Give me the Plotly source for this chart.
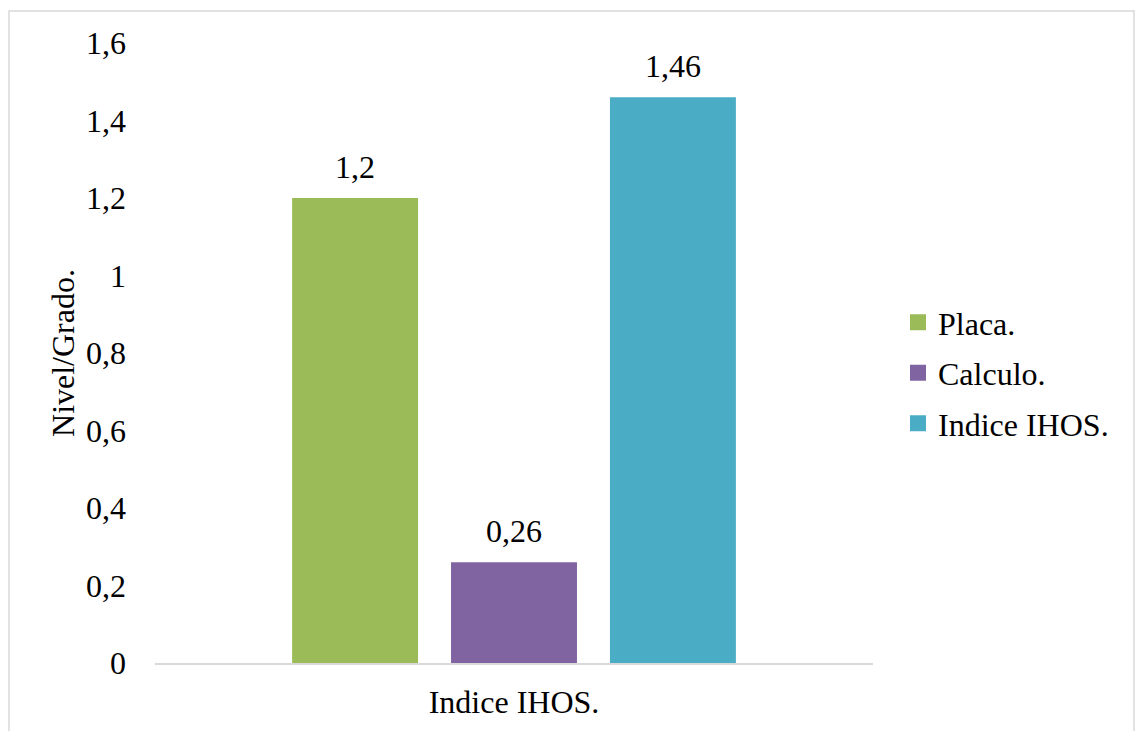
import plotly.graph_objects as go

categories = ["Indice IHOS."]
series_names = ["Placa.", "Calculo.", "Indice IHOS."]
series_values = [[1.2], [0.26], [1.46]]
series_colors = ["#9BBB59", "#8064A2", "#4BACC6"]
tick_values = [0, 0.2, 0.4, 0.6, 0.8, 1.0, 1.2, 1.4, 1.6]

FONT = "Liberation Serif"
FS = 32
L, R, T, B = 155, 263, 43, 68
W, H = 1136, 731
BARGAP = 0.336

def fmt(v):
    return ("%g" % v).replace(".", ",")

fig = go.Figure()
for i, (name, vals, col) in enumerate(zip(series_names, series_values, series_colors)):
    fig.add_trace(go.Bar(
        x=categories, y=vals, name=name, marker_color=col,
        marker_line_width=0, showlegend=False,
    ))
# legend entries with larger square swatches
for i, (name, col) in enumerate(zip(series_names, series_colors)):
    fig.add_trace(go.Scatter(
        x=[None], y=[None], mode="markers", name=name, legendgroup=f"g{i}",
        marker=dict(symbol="square", size=16, color=col, line=dict(width=0)),
        showlegend=True, hoverinfo="skip",
    ))

plot_w = W - L - R
slot_px = plot_w * (1 - BARGAP) / len(series_names)
for i, vals in enumerate(series_values):
    for c, v in zip(categories, vals):
        fig.add_annotation(
            x=c, y=v, xref="x", yref="y", text=fmt(v), showarrow=False,
            yanchor="bottom", xshift=(i - (len(series_names) - 1) / 2) * slot_px,
            yshift=11, font=dict(family=FONT, size=FS, color="#000000"),
        )

plot_h = H - T - B
fig.add_shape(
    type="rect", xref="paper", yref="paper",
    x0=(9 - L) / plot_w, x1=(1134 - L) / plot_w,
    y0=(H - B - 740) / plot_h, y1=(H - B - 11) / plot_h,
    line=dict(color="#D9D9D9", width=1.5), fillcolor="rgba(0,0,0,0)", layer="below",
)

fig.update_layout(
    width=W, height=H,
    margin=dict(l=L, r=R, t=T, b=B, pad=0),
    barmode="group", bargap=BARGAP, bargroupgap=0.2075,
    separators=",.",
    plot_bgcolor="white", paper_bgcolor="white",
    font=dict(family=FONT, size=FS, color="#000000"),
    legend=dict(
        x=(898 - L) / plot_w, xanchor="left", y=0.468, yanchor="middle",
        font=dict(family=FONT, size=FS, color="#000000"),
        tracegroupgap=6, bgcolor="rgba(0,0,0,0)", itemsizing="trace",
    ),
    showlegend=True,
)
fig.update_yaxes(
    range=[0, 1.6], tickvals=tick_values, showgrid=False, zeroline=False,
    showline=False, ticks="", ticklabelstandoff=28,
    title=dict(text="Nivel/Grado.", font=dict(family=FONT, size=FS), standoff=1),
)
fig.update_xaxes(
    showline=True, linecolor="#D9D9D9", linewidth=2, ticks="", showgrid=False,
    ticklabelstandoff=10,
)

fig.write_html("out.html")
